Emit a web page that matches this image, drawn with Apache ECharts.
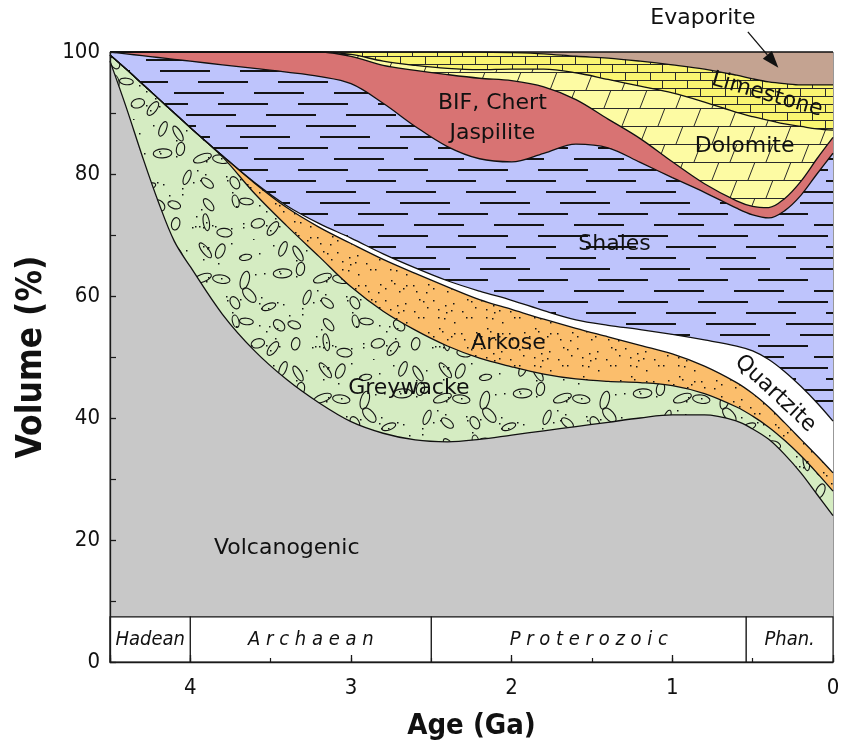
<!DOCTYPE html>
<html><head><meta charset="utf-8">
<script src="https://cdn.jsdelivr.net/npm/echarts@6/dist/echarts.min.js"></script>
<style>html,body{margin:0;padding:0;background:#fff}#c{width:841px;height:749px}</style>
</head><body><div id="c"></div>
<script>
// ---------- data (cumulative upper boundary of each layer, %) ----------
const ages = [4.5,4.4,4.3,4.2,4.1,4.0,3.8,3.6,3.4,3.2,3.0,2.8,2.6,2.4,2.2,2.0,1.8,1.6,1.4,1.2,1.0,0.8,0.6,0.5,0.4,0.3,0.2,0.1,0];
const evaporiteTop  = [100,100,100,100,100,100,100,100,100,100,100,100,100,100,100,100,100,100,100,100,100,100,100,100,100,100,100,100,100];
const limestoneTop  = [100,100,100,100,100,100,100,100,100,100,100,100,100,100,100,99.9,99.7,99.3,99.0,98.5,97.9,97.2,96.2,95.6,95.1,94.8,94.6,94.6,94.6];
const dolomiteTop   = [100,100,100,100,100,100,100,100,100,100,99.6,98.5,97.8,97.3,97.1,97.2,97.2,96.6,95.5,94.4,93.3,91.8,90.1,89.4,88.8,88.2,87.8,87.4,87.2];
const bifTop        = [100,100,100,100,100,100,100,100,100,100,99.3,97.8,97.0,96.3,95.7,95.3,94.3,92.2,89.0,85.8,82.0,78.4,75.6,74.7,74.5,76.0,78.8,82.5,86.0];
const shaleTop      = [100,99.7,99.4,99.1,98.8,98.5,97.9,97.3,96.7,96.0,94.8,91.6,87.8,84.5,82.5,82.0,83.4,84.9,84.3,81.9,79.4,77.0,74.4,73.3,72.8,74.0,76.5,80.0,83.4];
const quartziteTop  = [99.5,97.2,94.8,92.4,90.0,87.6,83.0,78.6,74.8,71.9,69.5,66.9,64.6,62.5,60.8,59.3,57.6,56.1,55.2,54.5,53.7,52.8,51.8,51.0,49.6,47.6,45.2,42.5,39.5];
const arkoseTop     = [99.5,97.2,94.8,92.4,90.0,87.6,83.0,78.5,74.5,71.3,68.6,66.0,63.7,61.5,59.4,57.8,56.2,54.7,53.3,51.9,50.5,48.5,45.8,44.0,41.8,39.2,36.5,33.8,31.0];
const greywackeTop  = [99.5,97.2,94.8,92.4,90.0,87.6,82.8,76.8,71.5,66.5,61.5,57.5,54.4,51.8,49.8,48.4,47.2,46.4,46.0,45.8,45.3,44.0,41.8,40.3,38.5,36.3,33.8,31.0,28.0];
const volcanicTop   = [98.5,91.0,83.0,75.5,69.0,64.8,57.0,51.0,46.3,42.5,39.4,37.5,36.4,36.1,36.5,37.2,37.9,38.6,39.3,40.0,40.5,40.5,39.5,38.2,36.5,34.0,31.0,27.5,24.0];

const eonNames  = ['Hadean','A r c h a e a n','P r o t e r o z o i c','Phan.'];
const eonBounds = [4.5, 4.0, 2.5, 0.54, 0];
const eonBandTop = 7.4;

const layerNames = ['Evaporite','Limestone','Dolomite','BIF, Chert\nJaspilite','Shales','Quartzite','Arkose','Greywacke','Volcanogenic'];
// label anchor points [age, volume] and rotations (deg)
const labelPos = [[0.81,105.6],[0.41,93.0],[0.55,84.6],[2.12,89.2],[1.36,68.5],[0.36,44.0],[2.02,52.3],[2.64,44.9],[3.40,18.7]];
const labelRot = [0,-16,0,0,0,-43,0,0,0];
const arrowFrom = [0.53,103.3], arrowTo = [0.34,97.4];

// ---------- patterns ----------
let seed = 12345;
function rnd(){ seed = (seed*16807) % 2147483647; return (seed-1)/2147483646; }
function tile(w,h,bg,draw){
  const c=document.createElement('canvas'); c.width=w; c.height=h;
  const g=c.getContext('2d'); g.fillStyle=bg; g.fillRect(0,0,w,h);
  g.strokeStyle='#141414'; g.fillStyle='#141414'; draw(g,w,h);
  return {image:c, repeat:'repeat'};
}
const shalePat = tile(240,66,'#bec4fc',g=>{
  g.lineWidth=2; const offs=[0,38,14,58,26,66];
  for(let r=0;r<6;r++){ const y=5+r*11;
    for(let k=-1;k<4;k++){ const x=offs[r]+k*80; g.beginPath(); g.moveTo(x,y); g.lineTo(x+50,y); g.stroke(); } }
});
const gwPat = tile(120,120,'#d5ecc2',(g,w,h)=>{
  g.lineWidth=1.1;
  for(let i=0;i<5;i++) for(let j=0;j<5;j++){
    const x=i*24+4+rnd()*16, y=j*24+4+rnd()*16, a=rnd()*Math.PI, rx=6+rnd()*3.5, ry=3+rnd()*1.6;
    for(const dx of [-w,0,w]) for(const dy of [-h,0,h]){ g.beginPath(); g.ellipse(x+dx,y+dy,rx,ry,a,0,Math.PI*2); g.stroke(); }
  }
  for(let i=0;i<60;i++){ g.fillRect(Math.floor(rnd()*w),Math.floor(rnd()*h),1.5,1.5); }
});
const arkPat = tile(48,48,'#fbbe6c',g=>{
  for(let i=0;i<5;i++) for(let j=0;j<5;j++){ g.fillRect(Math.floor(i*9.6+rnd()*8),Math.floor(j*9.6+rnd()*8),1.5,1.5); }
});
const dolPat = tile(72,36,'#fdfba3',g=>{
  g.strokeStyle='#2a2a2a'; g.lineWidth=1; g.beginPath();
  g.moveTo(0,0.5); g.lineTo(72,0.5); g.moveTo(0,18.5); g.lineTo(72,18.5);
  [10,46].forEach(x=>{g.moveTo(x,18); g.lineTo(x+7,0);});
  [28,64].forEach(x=>{g.moveTo(x,36); g.lineTo(x+7,18);});
  g.stroke();
});
const limPat = tile(50,16,'#faf571',g=>{
  g.strokeStyle='#2a2a2a'; g.lineWidth=1; g.beginPath();
  g.moveTo(0,0.5); g.lineTo(50,0.5); g.moveTo(0,8.5); g.lineTo(50,8.5);
  [12.5,37.5].forEach(x=>{g.moveTo(x,0); g.lineTo(x,8);});
  [0.5,25.5].forEach(x=>{g.moveTo(x,8); g.lineTo(x,16);});
  g.stroke();
});

const tops  = [evaporiteTop,limestoneTop,dolomiteTop,bifTop,shaleTop,quartziteTop,arkoseTop,greywackeTop,volcanicTop];
const fills = ['#c4a391',limPat,dolPat,'#d87373',shalePat,'#ffffff',arkPat,gwPat,'#c8c8c8'];

const FONT = 'DejaVu Sans Condensed';
const chart = echarts.init(document.getElementById('c'), null, {renderer:'canvas'});

const series = tops.map((t,i)=>({
  type:'line', name: layerNames[i], xAxisIndex:0, yAxisIndex:0,
  data: ages.map((a,j)=>[a,t[j]]),
  smooth:0.35, symbol:'none', clip:true,
  lineStyle:{color:'#111', width:1.3},
  areaStyle:{color:fills[i], opacity:1, origin:'start'},
  silent:true
}));
series.push({
  type:'custom', name:'eons', xAxisIndex:0, yAxisIndex:0, z:10, silent:true,
  encode:{x:[0,1]},
  data: eonNames.map((n,i)=>[eonBounds[i], eonBounds[i+1]]),
  renderItem:(params, api)=>{
    const s = api.coord([api.value(0), eonBandTop]);
    const e = api.coord([api.value(1), 0]);
    const x0 = Math.min(s[0],e[0]), w = Math.abs(e[0]-s[0]);
    return {type:'group', children:[
      {type:'rect', shape:{x:x0, y:s[1], width:w, height:e[1]-s[1]}, style:{fill:'#fff', stroke:'#111', lineWidth:1.1}},
      {type:'text', x:x0+w/2, y:(s[1]+e[1])/2, style:{text:eonNames[params.dataIndex], fill:'#111', fontSize:20, fontStyle:'italic', fontFamily:FONT, align:'center', verticalAlign:'middle'}}
    ]};
  }
});

const axisCol = '#1a1a1a';
chart.setOption({
  animation:false,
  grid:{left:110,right:8,top:52,bottom:87,outerBoundsMode:'none',containLabel:false,show:true,borderColor:'#333',borderWidth:1,backgroundColor:'transparent'},
  xAxis:[{
    type:'value', min:0, max:4.5, interval:1, inverse:true, position:'bottom', z:20,
    name:'Age (Ga)', nameLocation:'middle', nameGap:50,
    nameTextStyle:{fontFamily:FONT, fontWeight:'bold', fontSize:29, color:'#111'},
    axisLine:{onZero:false, lineStyle:{color:axisCol, width:1.3}},
    axisTick:{inside:true, length:7, lineStyle:{color:axisCol, width:1.3}},
    axisLabel:{formatter:v=>Number.isInteger(v)?String(v):'', fontSize:22, color:'#111', margin:15, fontFamily:FONT},
    splitLine:{show:false}
  },{
    type:'value', min:0, max:4.5, interval:0.5, inverse:true, position:'bottom', z:20,
    axisLine:{show:false, onZero:false}, axisTick:{inside:true, length:4, lineStyle:{color:axisCol, width:1.2}},
    axisLabel:{show:false}, splitLine:{show:false}
  }],
  yAxis:{
    type:'value', min:0, max:100, interval:20, z:20, position:'left',
    name:'Volume (%)', nameLocation:'middle', nameGap:61, nameRotate:90,
    nameTextStyle:{fontFamily:FONT, fontWeight:'bold', fontSize:35, color:'#111'},
    axisLine:{onZero:false, lineStyle:{color:axisCol, width:1.3}},
    axisTick:{inside:true, length:6, lineStyle:{color:axisCol, width:1.3}},
    minorTick:{show:true, splitNumber:2, length:6, lineStyle:{color:axisCol, width:1.2}},
    axisLabel:{fontSize:22, color:'#111', margin:10, fontFamily:FONT},
    splitLine:{show:false}, minorSplitLine:{show:false}
  },
  series
});

// ---------- text labels & arrow ----------
const px = p => chart.convertToPixel({gridIndex:0}, p);
const graphics = layerNames.map((n,i)=>{
  const p = px(labelPos[i]);
  return {type:'text', x:p[0], y:p[1], rotation:labelRot[i]*Math.PI/180, z:50,
    style:{text:n, fill:'#111', fontSize:22, fontFamily:'DejaVu Sans', align:'center', verticalAlign:'middle', lineHeight:30}};
});
const a0 = px(arrowFrom), a1 = px(arrowTo);
const ang = Math.atan2(a1[1]-a0[1], a1[0]-a0[0]);
const L = 17, W = 6;
const bx = a1[0]-L*Math.cos(ang), by = a1[1]-L*Math.sin(ang);
graphics.push({type:'line', z:50, shape:{x1:a0[0],y1:a0[1],x2:bx,y2:by}, style:{stroke:'#111', lineWidth:1.3}});
graphics.push({type:'polygon', z:50, shape:{points:[[a1[0],a1[1]],[bx+W*Math.sin(ang),by-W*Math.cos(ang)],[bx-W*Math.sin(ang),by+W*Math.cos(ang)]]}, style:{fill:'#111'}});
chart.setOption({graphic:graphics});
</script>
</body></html>
